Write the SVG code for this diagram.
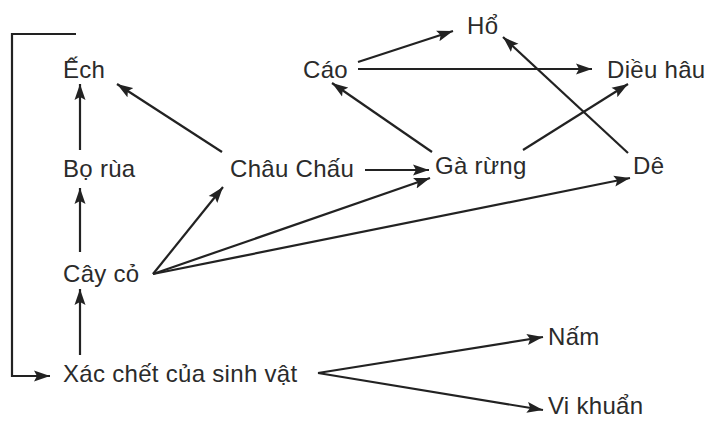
<svg xmlns="http://www.w3.org/2000/svg" width="711" height="421" viewBox="0 0 711 421">
<defs>
<style>
text{font-family:"Liberation Sans",Arial,sans-serif;font-size:24px;letter-spacing:0.3px;fill:#2b2b2b}
.c line,.c polyline{stroke:#222;stroke-width:2.2;fill:none}
</style>
<marker id="a" markerUnits="userSpaceOnUse" markerWidth="18" markerHeight="12" refX="16" refY="6" orient="auto">
<path d="M0,0.5 L16,6 L0,11.5 L3,6 Z" fill="#222"/>
</marker>
</defs>
<rect width="711" height="421" fill="#fff"/>
<g class="c" id="connectors">
<polyline points="76,34 12,34 12,376 50,376" marker-end="url(#a)"/>
<line x1="80" y1="150" x2="80" y2="84" marker-end="url(#a)"/>
<line x1="222" y1="152" x2="117" y2="84" marker-end="url(#a)"/>
<line x1="80" y1="252" x2="80" y2="188" marker-end="url(#a)"/>
<line x1="80" y1="355" x2="80" y2="289" marker-end="url(#a)"/>
<line x1="153" y1="274" x2="223" y2="187" marker-end="url(#a)"/>
<line x1="153" y1="274" x2="430" y2="178" marker-end="url(#a)"/>
<line x1="153" y1="274" x2="630" y2="178" marker-end="url(#a)"/>
<line x1="365" y1="170" x2="429" y2="170" marker-end="url(#a)"/>
<line x1="432" y1="152" x2="332" y2="83" marker-end="url(#a)"/>
<line x1="358" y1="62" x2="453" y2="31" marker-end="url(#a)"/>
<line x1="358" y1="69" x2="592" y2="69" marker-end="url(#a)"/>
<line x1="628" y1="153" x2="503" y2="37" marker-end="url(#a)"/>
<line x1="523" y1="150" x2="628" y2="84" marker-end="url(#a)"/>
<line x1="318" y1="373" x2="543" y2="337" marker-end="url(#a)"/>
<line x1="318" y1="373" x2="543" y2="410" marker-end="url(#a)"/>
</g>
<g id="ech"><text x="63" y="78">Ếch</text></g>
<g id="boRua"><text x="63" y="177">Bọ rùa</text></g>
<g id="cayCo"><text x="63" y="282">Cây cỏ</text></g>
<g id="xacChet"><text x="63" y="382">Xác chết của sinh vật</text></g>
<g id="chauChau"><text x="230" y="177">Châu Chấu</text></g>
<g id="cao"><text x="303" y="78">Cáo</text></g>
<g id="ho"><text x="467" y="34">Hổ</text></g>
<g id="dieuHau"><text x="607" y="78">Diều hâu</text></g>
<g id="gaRung"><text x="435" y="174">Gà rừng</text></g>
<g id="de"><text x="633" y="174">Dê</text></g>
<g id="nam"><text x="548" y="345">Nấm</text></g>
<g id="viKhuan"><text x="548" y="414">Vi khuẩn</text></g>
</svg>
